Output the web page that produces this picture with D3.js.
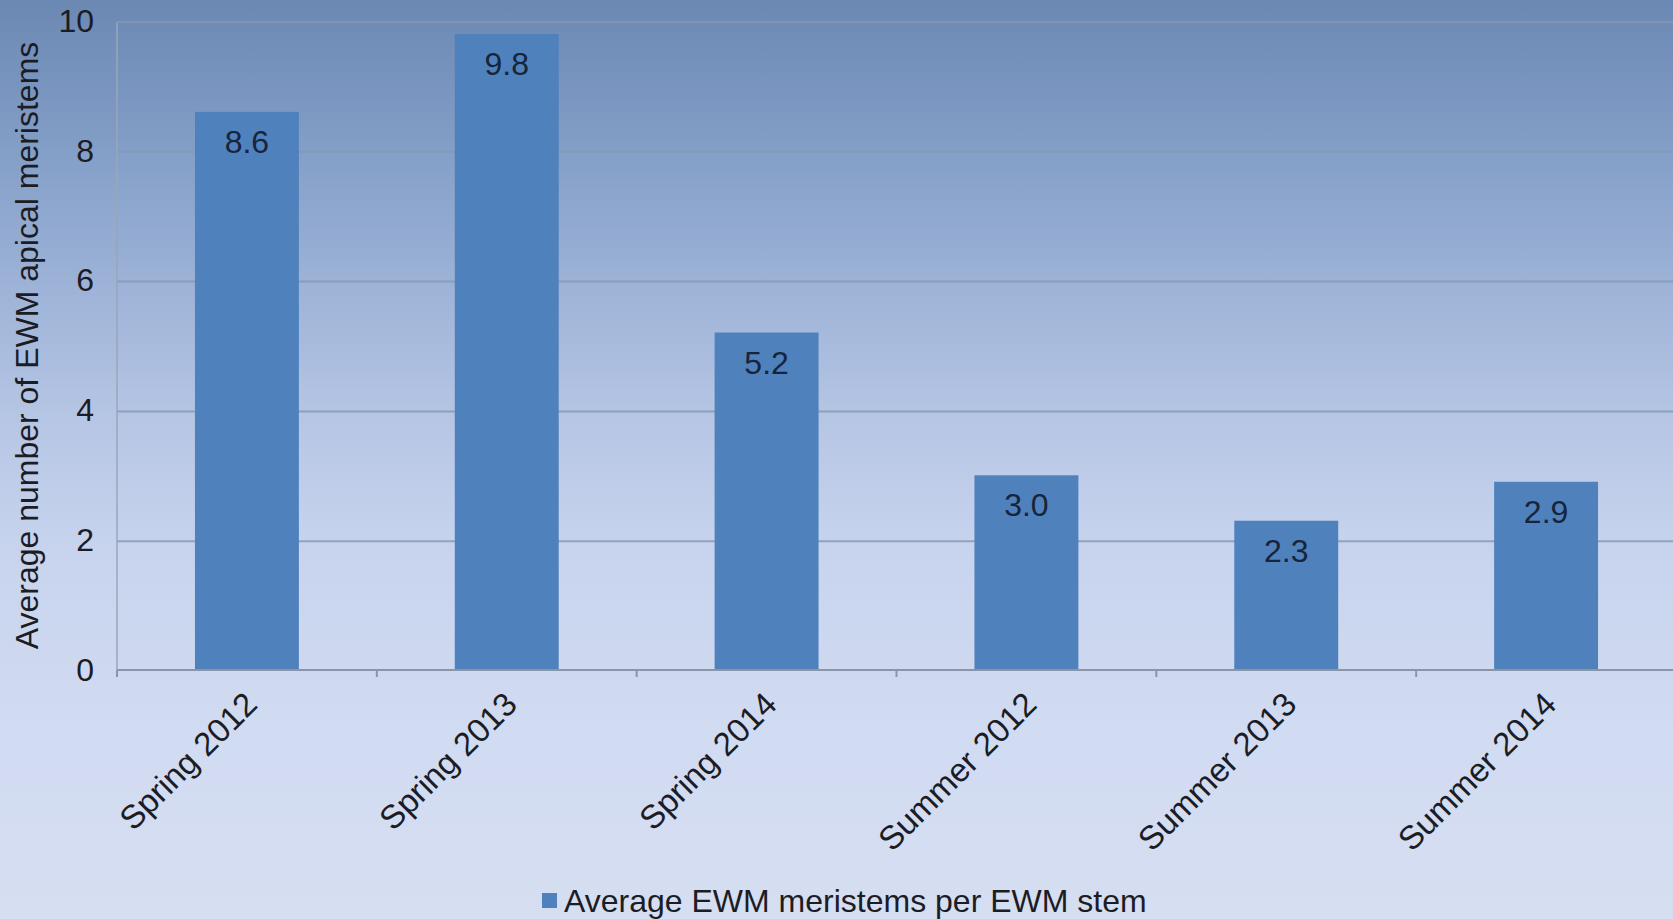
<!DOCTYPE html>
<html><head><meta charset="utf-8">
<script src="https://cdn.jsdelivr.net/npm/d3@7"></script>
<style>html,body{margin:0;padding:0;overflow:hidden;} text{font-family:"Liberation Sans",Arial,sans-serif;}</style>
</head><body>
<svg id="chart" width="1673" height="919"></svg>
<script>
const categories = ["Spring 2012","Spring 2013","Spring 2014","Summer 2012","Summer 2013","Summer 2014"];
const values = [8.6, 9.8, 5.2, 3.0, 2.3, 2.9];
const valueLabels = ["8.6","9.8","5.2","3.0","2.3","2.9"];
const yTicks = [0, 2, 4, 6, 8, 10];
const yTitle = "Average number of EWM apical meristems";
const seriesName = "Average EWM meristems per EWM stem";

const W = 1673, H = 919;
const left = 117, plotTop = 21, plotBottom = 670, right = 1676;
const svg = d3.select("#chart");

const defs = svg.append("defs");
const grad = defs.append("linearGradient").attr("id","bg").attr("x1",0).attr("y1",0).attr("x2",0).attr("y2",1);
[[0,"#6b88b3"],[0.15,"#819dc6"],[0.3,"#9bb1d6"],[0.45,"#b5c5e4"],[0.6,"#c8d4ee"],[0.8,"#d1dbf1"],[1,"#d6def1"]]
  .forEach(s=>grad.append("stop").attr("offset",s[0]).attr("stop-color",s[1]));
svg.append("rect").attr("width",W).attr("height",H).attr("fill","url(#bg)");

const x = d3.scaleBand().domain(categories).range([left, right]).paddingInner(0.6).paddingOuter(0.3);
const y = d3.scaleLinear().domain([0,10]).range([plotBottom, plotTop]);

// gridlines
svg.append("g").selectAll("line").data(yTicks.filter(d=>d>0)).join("line")
  .attr("x1", left).attr("x2", W).attr("y1", d=>y(d)+1).attr("y2", d=>y(d)+1)
  .attr("stroke","#8598b4").attr("stroke-width",2).attr("opacity",0.8);

// y axis line
svg.append("line").attr("x1",left).attr("x2",left).attr("y1",plotTop+1).attr("y2",plotBottom+6)
  .attr("stroke","#9aa6b8").attr("stroke-width",1.5);

// bars
svg.append("g").selectAll("rect").data(values).join("rect")
  .attr("x",(d,i)=>x(categories[i])).attr("width",x.bandwidth())
  .attr("y",d=>y(d)).attr("height",d=>y(0)-y(d))
  .attr("fill","#4f81bd");

// value labels
svg.append("g").selectAll("text").data(values).join("text")
  .attr("x",(d,i)=>x(categories[i])+x.bandwidth()/2)
  .attr("y",d=>y(d)+41)
  .attr("text-anchor","middle").attr("font-size",32).attr("fill","#18243a")
  .text((d,i)=>valueLabels[i]);

// x axis line
svg.append("line").attr("x1",left).attr("x2",W).attr("y1",y(0)).attr("y2",y(0))
  .attr("stroke","#8a96a8").attr("stroke-width",2);
// boundary ticks
const step = x.step();
svg.append("g").selectAll("line").data(d3.range(categories.length+1)).join("line")
  .attr("x1",i=>left+i*step).attr("x2",i=>left+i*step)
  .attr("y1",y(0)).attr("y2",y(0)+7)
  .attr("stroke","#8a96a8").attr("stroke-width",2);

// y tick labels
const yAxis = d3.axisLeft(y).tickValues(yTicks).tickSize(0).tickPadding(0).tickFormat(d3.format("d"));
const ya = svg.append("g").attr("transform",`translate(${left-23},0)`).call(yAxis);
ya.select(".domain").remove();
ya.selectAll("text").attr("font-size",32).attr("fill","#1c1c24").attr("font-family","Liberation Sans, Arial, sans-serif");

// x category labels
svg.append("g").selectAll("text").data(categories).join("text")
  .attr("transform",d=>`translate(${x(d)+x.bandwidth()/2+4},${y(0)+28}) rotate(-45)`)
  .attr("text-anchor","end").attr("dy","0.35em")
  .attr("font-size",33).attr("fill","#1c1c24").text(d=>d);

// y title
svg.append("text").attr("transform",`translate(38,${(plotTop+plotBottom)/2}) rotate(-90)`)
  .attr("text-anchor","middle").attr("font-size",32).attr("fill","#1c1c24").text(yTitle);

// legend
const lg = svg.append("g").attr("transform","translate(542,901)");
lg.append("rect").attr("x",0).attr("y",-8).attr("width",15).attr("height",15).attr("fill","#4f81bd");
lg.append("text").attr("x",22).attr("y",0).attr("dy","0.35em").attr("font-size",32).attr("fill","#1c1c24").text(seriesName);
</script>
</body></html>
